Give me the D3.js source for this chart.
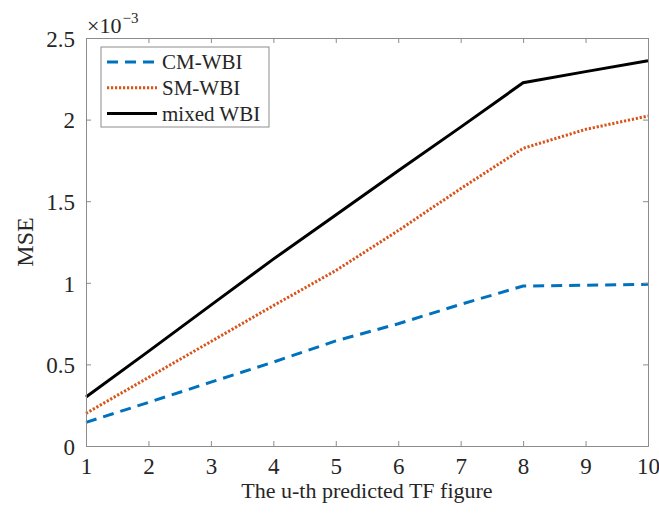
<!DOCTYPE html>
<html>
<head>
<meta charset="utf-8">
<script src="https://cdn.jsdelivr.net/npm/d3@7"></script>
<style>
  html, body { margin: 0; padding: 0; background: #fff; }
  svg text { font-family: "Liberation Serif", "Times New Roman", serif; fill: #262626; }
</style>
</head>
<body>
<svg id="chart" width="659" height="514"></svg>
<script>
// Prediction index (x) and mean squared error (×10^-3) of each method
const uIndex = [1, 2, 3, 4, 5, 6, 7, 8, 9, 10];
const cmWBI    = [0.145, 0.267, 0.391, 0.514, 0.644, 0.749, 0.868, 0.980, 0.985, 0.991];
const smWBI    = [0.200, 0.420, 0.640, 0.860, 1.075, 1.320, 1.577, 1.824, 1.940, 2.022];
const mixedWBI = [0.300, 0.580, 0.863, 1.145, 1.415, 1.686, 1.954, 2.226, 2.294, 2.361];

const seriesNames = ["CM-WBI", "SM-WBI", "mixed WBI"];
const xTicks = [1, 2, 3, 4, 5, 6, 7, 8, 9, 10];
const yTicks = [0, 0.5, 1, 1.5, 2, 2.5];

const styles = [
  { color: "#0072BD", dash: "11,7" },
  { color: "#D95319", dash: "2.2,1.8" },
  { color: "#000000", dash: null }
];
const series = [cmWBI, smWBI, mixedWBI].map((vals, i) => ({
  name: seriesNames[i],
  points: uIndex.map((u, j) => ({ x: u, y: vals[j] })),
  style: styles[i]
}));

const svg = d3.select("#chart");
const margin = { left: 86, top: 38, right: 11, bottom: 68 };
const W = 659, H = 514;
const x = d3.scaleLinear().domain([1, 10]).range([margin.left, W - margin.right]);
const y = d3.scaleLinear().domain([0, 2.5]).range([H - margin.bottom, margin.top]);

const axisColor = "#8c8c8c";
const tickLen = 5;
const tickFont = "23px";

// Lines
const line = d3.line().x(d => x(d.x)).y(d => y(d.y));
series.forEach(s => {
  svg.append("path")
    .datum(s.points)
    .attr("d", line)
    .attr("fill", "none")
    .attr("stroke", s.style.color)
    .attr("stroke-width", 3)
    .attr("stroke-dasharray", s.style.dash);
});

// Axes with inward ticks on all four sides (boxed)
const xBottom = svg.append("g").attr("transform", `translate(0,${y(0)})`)
  .call(d3.axisBottom(x).tickValues(xTicks).tickSize(-tickLen).tickPadding(12).tickFormat(d3.format("d")));
const xTop = svg.append("g").attr("transform", `translate(0,${y(2.5)})`)
  .call(d3.axisTop(x).tickValues(xTicks).tickSize(-tickLen).tickFormat(""));
const yLeft = svg.append("g").attr("transform", `translate(${x(1)},0)`)
  .call(d3.axisLeft(y).tickValues(yTicks).tickSize(-tickLen).tickPadding(11).tickFormat(d => d3.format("~g")(d)));
const yRight = svg.append("g").attr("transform", `translate(${x(10)},0)`)
  .call(d3.axisRight(y).tickValues(yTicks).tickSize(-tickLen).tickFormat(""));

[xBottom, xTop, yLeft, yRight].forEach(g => {
  g.selectAll(".domain").attr("stroke", axisColor).attr("stroke-width", 1);
  g.selectAll(".tick line").attr("stroke", axisColor).attr("stroke-width", 1);
  g.selectAll(".tick text").style("font-family", "Liberation Serif, serif").style("font-size", tickFont).attr("fill", "#262626");
});
yLeft.selectAll(".tick text").attr("dy", "0.36em");
xBottom.selectAll(".tick text").attr("dy", "0.7em");

// Exponent label
const expo = svg.append("text").attr("x", x(1) + 1).attr("y", 33).style("font-size", "22px");
expo.append("tspan").text("×10");
expo.append("tspan").attr("dy", -10).attr("dx", 1).style("font-size", "15px").text("−3");

// Axis titles
svg.append("text")
  .attr("x", (x(1) + x(10)) / 2).attr("y", 498)
  .attr("text-anchor", "middle")
  .style("font-size", "22px")
  .text("The u-th predicted TF figure");
svg.append("text")
  .attr("transform", `translate(33,${(y(0) + y(2.5)) / 2}) rotate(-90)`)
  .attr("text-anchor", "middle")
  .style("font-size", "24px")
  .text("MSE");

// Legend
const lg = svg.append("g");
lg.append("rect")
  .attr("x", 101).attr("y", 47).attr("width", 168).attr("height", 80)
  .attr("fill", "#fff").attr("stroke", axisColor).attr("stroke-width", 1);
series.forEach((s, i) => {
  const ly = 62 + i * 25.8;
  lg.append("line")
    .attr("x1", 107).attr("x2", 157).attr("y1", ly).attr("y2", ly)
    .attr("stroke", s.style.color).attr("stroke-width", 3)
    .attr("stroke-dasharray", s.style.dash);
  lg.append("text")
    .attr("x", 162).attr("y", ly).attr("dy", "0.35em")
    .style("font-size", "21px")
    .text(s.name);
});
</script>
</body>
</html>
